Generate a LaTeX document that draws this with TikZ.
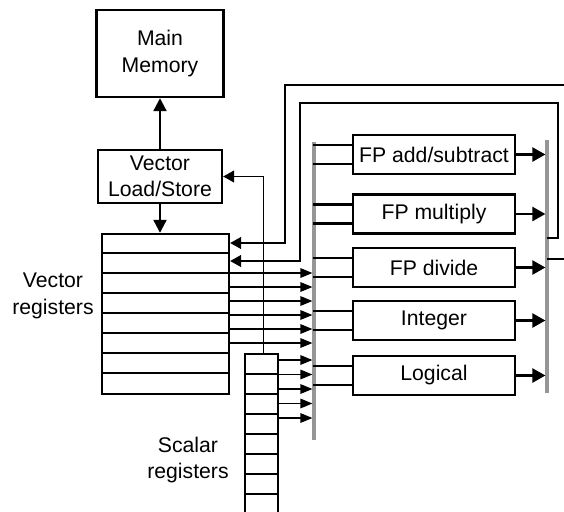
\documentclass[tikz,border=0pt]{standalone}
\usepackage{fontspec}
\setmainfont{Liberation Sans}
\usetikzlibrary{calc}
\usetikzlibrary{arrows.meta}
\definecolor{busgray}{RGB}{150,150,150}

\begin{document}
\begin{tikzpicture} [x=.5pt, y=-.5pt, font=\fontsize{10.6}{13.2}\selectfont,
  box/.style={draw, line width=1.2pt, align=center, inner sep=0pt},
  bus/.style={busgray, line width=1.6pt},
  wire/.style={line width=.6pt, shorten >=.8pt, -{Triangle[length=6pt,width=4.8pt]}},
  feed/.style={line width=.6pt, -{Triangle[length=5.5pt,width=6pt]}},
  port/.style={line width=1.2pt},
  result/.style={line width=1.2pt, shorten >=.8pt, -{Triangle[length=6.5pt,width=7pt]}},
  link/.style={line width=1.1pt, -{Triangle[length=6.5pt,width=6.5pt]}}]
\useasboundingbox (0,0) rectangle (564,511);
\clip (0,0) rectangle (564,511);

\node[box, minimum width=63.5pt, minimum height=43.5pt] (mem) at (160,53.5) {Main\\Memory};
\node[box, minimum width=62pt, minimum height=26.5pt] (vls) at (160,176.5) {Vector\\Load/Store};
\draw[link] (vls.north) -- (mem.south);

% vector registers
\node[box, minimum width=63.5pt, minimum height=80pt] (vreg) at (165.5,314) {};
\foreach \r in {1,...,7}
\draw[line width=1.2pt] ($(vreg.north west)+(0,20*\r)$) -- ($(vreg.north east)+(0,20*\r)$);
\draw[link] (vls.south) -- (vls.south |- vreg.north);
\node[align=center] (vlab) at (53,296) {Vector\\registers};

% scalar registers
\coordinate (sregW) at (245,354);
\coordinate (sregE) at (278,354);
\draw[line width=1.2pt] (sregW) ++(0,170) |- (sregE) -- ++(0,170);
\foreach \r in {1,...,7}
\draw[line width=1.2pt] ($(sregW)+(0,20*\r)$) -- ($(sregE)+(0,20*\r)$);
\node[align=center] (slab) at (188,460) {Scalar\\registers};
\draw[feed] ($(sregW)!.55!(sregE)$) |- (vls.east);

% buses
\coordinate (lbus) at (314,142);
\coordinate (rbus) at (547,140);
\draw[bus] (lbus) -- ++(0,298);
\draw[bus] (rbus) -- ++(0,253);

\foreach \y in {273,287,...,343}
\draw[wire] (vreg.east |- 0,\y) -- (lbus |- 0,\y);
\foreach \y in {360,374.5,389,403.5,418}
\draw[wire] (sregE |- 0,\y) -- (lbus |- 0,\y);

% functional units
\foreach \u/\y/\txt in {add/154.5/{FP add/subtract}, mul/214/{FP multiply}, div/267.5/{FP divide}, int/320.5/{Integer}, log/375.5/{Logical}} {
\node[box, minimum width=81pt, minimum height=19.5pt] (\u) at (434,\y) {\txt};
\draw[port] (\u.west) ++(0,-9.5) -- ++(-39,0) ++(0,19) -- ++(39,0);
\draw[result] (\u.east) -- (rbus |- \u.east);
}

% results back to the vector registers
\draw[feed] (rbus |- 0,259) -- ++(40,0) |- (285,85) |- (vreg.east |- 0,243);
\draw[feed] (rbus |- 0,238) -- (558,238) |- (300,103) |- (vreg.east |- 0,261);

\end{tikzpicture}
\end{document}
